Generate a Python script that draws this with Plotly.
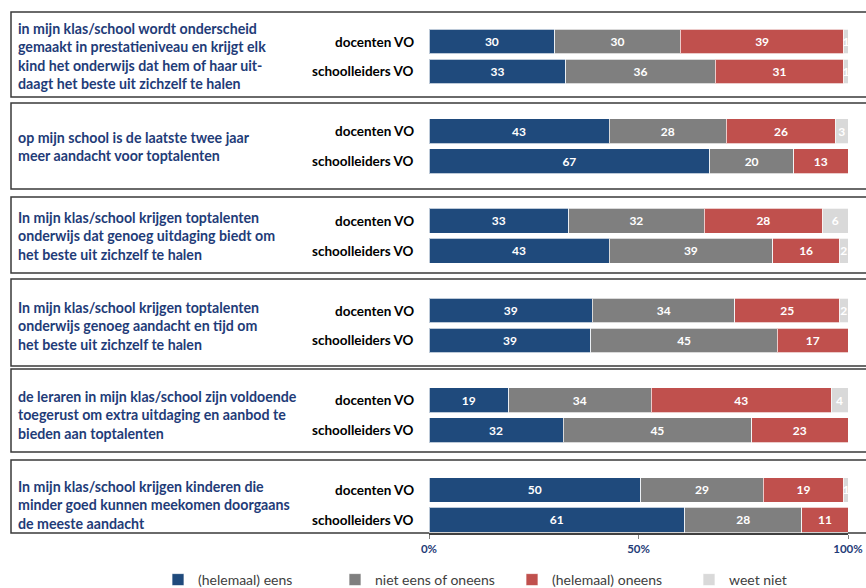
import plotly.graph_objects as go

# ---------------- data ----------------
statements = [
    "in mijn klas/school wordt onderscheid<br>gemaakt in prestatieniveau en krijgt elk<br>kind het onderwijs dat hem of haar uit-<br>daagt het beste uit zichzelf te halen",
    "op mijn school is de laatste twee jaar<br>meer aandacht voor toptalenten",
    "In mijn klas/school krijgen toptalenten<br>onderwijs dat genoeg uitdaging biedt om<br>het beste uit zichzelf te halen",
    "In mijn klas/school krijgen toptalenten<br>onderwijs genoeg aandacht en tijd om<br>het beste uit zichzelf te halen",
    "de leraren in mijn klas/school zijn voldoende<br>toegerust om extra uitdaging en aanbod te<br>bieden aan toptalenten",
    "In mijn klas/school krijgen kinderen die<br>minder goed kunnen meekomen doorgaans<br>de meeste aandacht",
]
respondents = ["docenten VO", "schoolleiders VO"]
categories = ["(helemaal) eens", "niet eens of oneens", "(helemaal) oneens", "weet niet"]

eens_doc = [30, 43, 33, 39, 19, 50]
eens_sl = [33, 67, 43, 39, 32, 61]
neutraal_doc = [30, 28, 32, 34, 34, 29]
neutraal_sl = [36, 20, 39, 45, 45, 28]
oneens_doc = [39, 26, 28, 25, 43, 19]
oneens_sl = [31, 13, 16, 17, 23, 11]
weetniet_doc = [1, 3, 6, 2, 4, 1]
weetniet_sl = [1, 0, 2, 0, 0, 0]

x_ticks = [0, 50, 100]
x_ticklabels = ["0%", "50%", "100%"]

# ---------------- styling ----------------
colors = ["#1F4A7C", "#7F7F7F", "#C0504D", "#D9D9D9"]
navy = "#1F3C78"
FONT = "Lato"

W, H = 866, 588
PLOT_L, PLOT_R = 429, 848
PLOT_T, PLOT_B = 10, 533
Y_TOP, Y_BOT = -1.054, 16.44  # data range (reversed axis)


def px_to_paper_x(px):
    return (px - PLOT_L) / (PLOT_R - PLOT_L)


def px_to_paper_y(py):
    return (PLOT_B - py) / (PLOT_B - PLOT_T)


series = [
    (eens_doc, eens_sl),
    (neutraal_doc, neutraal_sl),
    (oneens_doc, oneens_sl),
    (weetniet_doc, weetniet_sl),
]

ypos = []
for g in range(len(statements)):
    ypos += [3 * g, 3 * g + 1]

fig = go.Figure()
for cat, col, (doc, sl) in zip(categories, colors, series):
    xs = []
    for d, s in zip(doc, sl):
        xs += [d, s]
    fig.add_trace(go.Bar(
        name=cat,
        orientation="h",
        x=xs,
        y=ypos,
        width=0.83,
        marker=dict(color=col, line=dict(color="rgba(255,255,255,0.7)", width=1)),
        text=[str(v) if v else "" for v in xs],
        textposition="inside",
        insidetextanchor="middle",
        textfont=dict(color="white", size=12, family=FONT, weight="bold"),
        hoverinfo="skip",
    ))

annotations = []
for g, st in enumerate(statements):
    annotations.append(dict(
        text=st, xref="paper", yref="y", x=px_to_paper_x(16), y=3 * g + 0.5,
        xanchor="left", yanchor="middle", align="left", showarrow=False,
        font=dict(family=FONT, size=14.2, color=navy, weight="bold"),
    ))
    for r, name in enumerate(respondents):
        annotations.append(dict(
            text=name, xref="paper", yref="y", x=px_to_paper_x(416), y=3 * g + r,
            xanchor="right", yanchor="middle", showarrow=False,
            font=dict(family=FONT, size=13.5, color="#000000", weight="bold"),
        ))

box_rows = [(12, 97), (103, 189), (197, 273), (279, 366), (369, 452), (460, 533)]
shapes = []
for top, bot in box_rows:
    shapes.append(dict(
        type="rect", xref="paper", yref="paper",
        x0=px_to_paper_x(11), x1=px_to_paper_x(880),
        y0=px_to_paper_y(bot), y1=px_to_paper_y(top),
        line=dict(color="#3A3A3A", width=1.5), fillcolor="rgba(0,0,0,0)", layer="below",
    ))

fig.update_layout(
    width=W, height=H,
    margin=dict(l=PLOT_L, r=W - PLOT_R, t=PLOT_T, b=H - PLOT_B, autoexpand=False),
    paper_bgcolor="white", plot_bgcolor="white",
    barmode="stack", barnorm="percent",
    uniformtext=dict(minsize=12, mode="show"),
    showlegend=True,
    legend=dict(
        orientation="h", x=px_to_paper_x(158), y=px_to_paper_y(580),
        xanchor="left", yanchor="middle",
        font=dict(family=FONT, size=14, color="#404040"),
        entrywidth=132, entrywidthmode="pixels", traceorder="normal",
        itemwidth=30,
    ),
    annotations=annotations,
    shapes=shapes,
    xaxis=dict(
        range=[0, 100], tickvals=x_ticks, ticktext=x_ticklabels,
        showgrid=False, zeroline=False,
        showline=True, linecolor="#404040", linewidth=1.5,
        ticks="outside", ticklen=4, tickcolor="#808080",
        tickfont=dict(family=FONT, size=11.5, color=navy, weight="bold"),
        fixedrange=True,
    ),
    yaxis=dict(
        range=[Y_BOT, Y_TOP], showticklabels=False, showgrid=False,
        zeroline=False, showline=False, fixedrange=True,
    ),
)

fig.write_html(
    "out.html",
    config={"displayModeBar": False},
    post_script="document.body.style.margin='0';document.body.style.overflow='hidden';",
)
